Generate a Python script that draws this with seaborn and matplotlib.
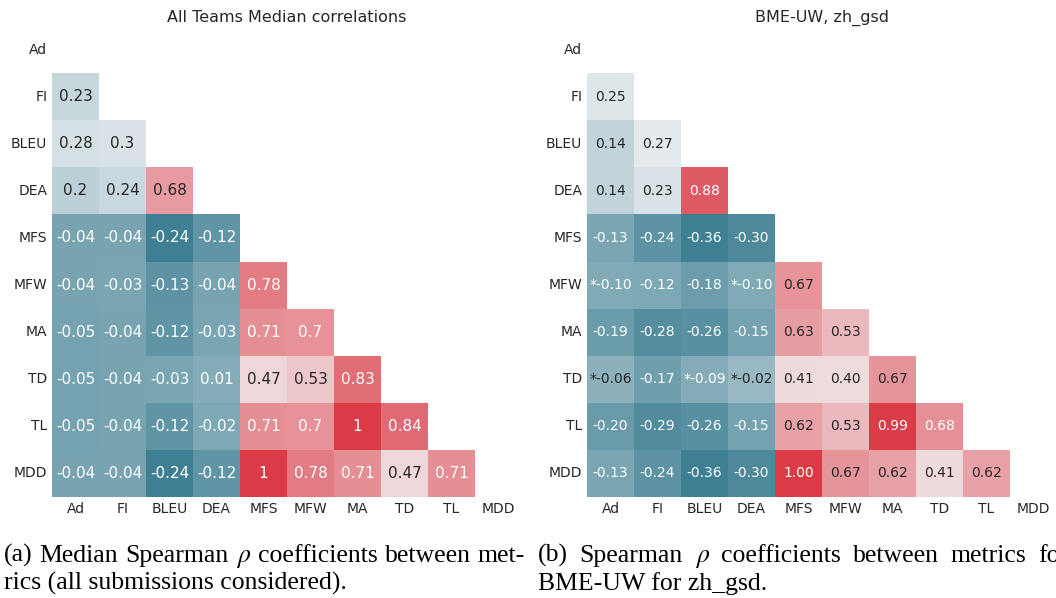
import numpy as np
import pandas as pd
import matplotlib
matplotlib.use("Agg")
import matplotlib.pyplot as plt
import seaborn as sns

# metric names (rows / columns of both matrices)
metrics = ['Ad', 'FI', 'BLEU', 'DEA', 'MFS', 'MFW', 'MA', 'TD', 'TL', 'MDD']

# lower triangle, row by row (row i holds columns 0..i-1)
median_rows = [
    [0.23],
    [0.28, 0.3],
    [0.2, 0.24, 0.68],
    [-0.04, -0.04, -0.24, -0.12],
    [-0.04, -0.03, -0.13, -0.04, 0.78],
    [-0.05, -0.04, -0.12, -0.03, 0.71, 0.7],
    [-0.05, -0.04, -0.03, 0.01, 0.47, 0.53, 0.83],
    [-0.05, -0.04, -0.12, -0.02, 0.71, 0.7, 1.0, 0.84],
    [-0.04, -0.04, -0.24, -0.12, 1.0, 0.78, 0.71, 0.47, 0.71],
]

bme_rows = [
    [0.25],
    [0.14, 0.27],
    [0.14, 0.23, 0.88],
    [-0.13, -0.24, -0.36, -0.30],
    [-0.10, -0.12, -0.18, -0.10, 0.67],
    [-0.19, -0.28, -0.26, -0.15, 0.63, 0.53],
    [-0.06, -0.17, -0.09, -0.02, 0.41, 0.40, 0.67],
    [-0.20, -0.29, -0.26, -0.15, 0.62, 0.53, 0.99, 0.68],
    [-0.13, -0.24, -0.36, -0.30, 1.00, 0.67, 0.62, 0.41, 0.62],
]

# cells marked with * (not significant) in the BME-UW matrix: (row, col)
bme_not_sig = [('MFW', 'Ad'), ('MFW', 'DEA'), ('TD', 'Ad'), ('TD', 'BLEU'), ('TD', 'DEA')]

caption_a = ["(a) Median Spearman $\\rho$ coefficients between met-",
             "rics (all submissions considered)."]
caption_b = ["(b) Spearman $\\rho$ coefficients between metrics for",
             "BME-UW for zh_gsd."]


def to_matrix(rows):
    n = len(metrics)
    m = np.eye(n)
    for i, r in enumerate(rows, start=1):
        for j, v in enumerate(r):
            m[i, j] = v
            m[j, i] = v
    return pd.DataFrame(m, index=metrics, columns=metrics)


median_df = to_matrix(median_rows)
bme_df = to_matrix(bme_rows)

bme_annot = bme_df.map(lambda v: f"{v:.2f}")
for r, c in bme_not_sig:
    bme_annot.loc[r, c] = "*" + bme_annot.loc[r, c]

mask = np.triu(np.ones_like(median_df, dtype=bool))
cmap = sns.diverging_palette(220, 10, as_cmap=True)

sns.set_theme(style="white")
plt.rcParams['font.family'] = ['DejaVu Sans']
plt.rcParams['mathtext.fontset'] = 'stix'

W, H = 1056, 598
fig = plt.figure(figsize=(W / 100, H / 100), dpi=100)


def px_axes(x0, y0, x1, y1):
    return fig.add_axes([x0 / W, 1 - y1 / H, (x1 - x0) / W, (y1 - y0) / H])


ax1 = px_axes(52, 26, 522, 497)
sns.heatmap(median_df, mask=mask, cmap=cmap, annot=True, cbar=False,
            annot_kws={'size': 11}, ax=ax1)
ax1.set_title("All Teams Median correlations", fontsize=11.5, pad=3, color='#262626')

ax2 = px_axes(587, 26, 1057, 497)
sns.heatmap(bme_df, mask=mask, cmap=cmap, annot=bme_annot, fmt='', cbar=False,
            annot_kws={'size': 10}, ax=ax2)
ax2.set_title("BME-UW, zh_gsd", fontsize=11.5, pad=3, color='#262626')

# the 0.67 cells carry dark text in the original
for t in ax2.texts:
    if t.get_text() == "0.67":
        t.set_color(".15")

for ax in (ax1, ax2):
    ax.tick_params(axis='both', labelsize=10, length=0, colors='#262626')
    ax.set_yticklabels(ax.get_yticklabels(), rotation=0)
    ax.set_xticklabels(ax.get_xticklabels(), rotation=0)

renderer = fig.canvas.get_renderer()
cap = dict(fontsize=18.5, family='Liberation Serif', color='black', va='baseline', ha='left')


def justified(line, x0, x1, y):
    # spread the words of one caption line over [x0, x1] like a justified paragraph
    words = line.split(" ")
    texts = [fig.text(0, 1 - y / H, w, **cap) for w in words]
    widths = [t.get_window_extent(renderer).width for t in texts]
    gap = (x1 - x0 - sum(widths)) / (len(words) - 1)
    x = x0
    for t, w in zip(texts, widths):
        t.set_x(x / W)
        x += w + gap


justified(caption_a[0], 4, 525, 562)
fig.text(4 / W, 1 - 590 / H, caption_a[1], **cap)
justified(caption_b[0], 538, 1068, 562)
fig.text(538 / W, 1 - 590 / H, caption_b[1], **cap)

fig.savefig("out.png", dpi=100)
